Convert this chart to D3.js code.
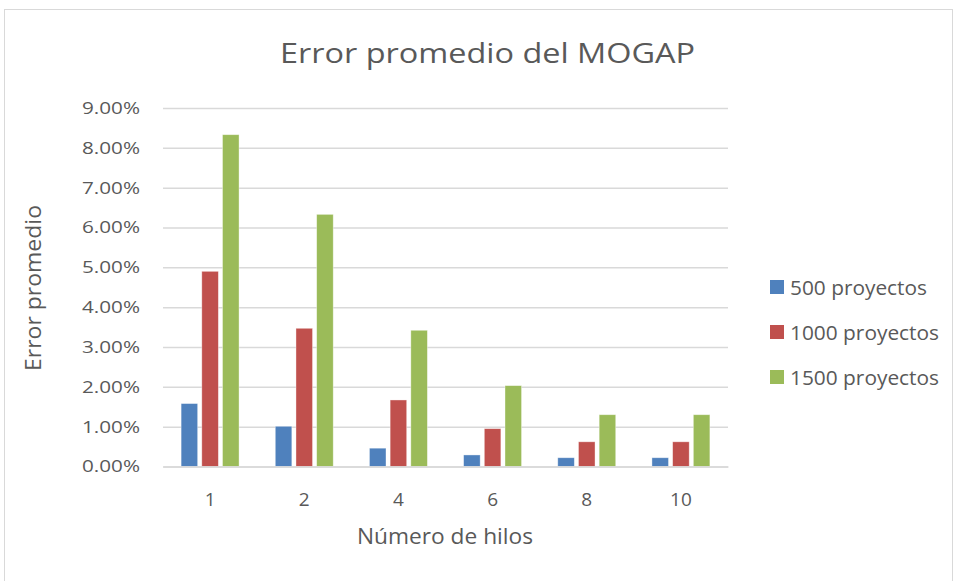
<!DOCTYPE html>
<html>
<head>
<meta charset="utf-8">
<script src="https://cdn.jsdelivr.net/npm/d3@7"></script>
<style>
  html, body { margin: 0; padding: 0; background: #fff; }
  svg { display: block; }
  text { font-family: "Open Sans", "Noto Sans", sans-serif; fill: #595959; }
</style>
</head>
<body>
<svg id="chart" width="958" height="581"></svg>
<script>
const categories = ["1", "2", "4", "6", "8", "10"];
const seriesNames = ["500 proyectos", "1000 proyectos", "1500 proyectos"];
const s500  = [0.0158, 0.0101, 0.0046, 0.0029, 0.0022, 0.0022];
const s1000 = [0.0490, 0.0347, 0.0167, 0.0095, 0.0062, 0.0062];
const s1500 = [0.0833, 0.0633, 0.0342, 0.0203, 0.0130, 0.0130];
const yTicks = [0, 0.01, 0.02, 0.03, 0.04, 0.05, 0.06, 0.07, 0.08, 0.09];
const colors = ["#4F81BD", "#C0504D", "#9BBB59"];
const title = "Error promedio del MOGAP";
const xTitle = "Número de hilos";
const yTitle = "Error promedio";

const seriesValues = [s500, s1000, s1500];
const svg = d3.select("#chart");

// chart border
svg.append("rect").attr("x", 4.5).attr("y", 9.5).attr("width", 948).attr("height", 600)
  .attr("fill", "none").attr("stroke", "#D9D9D9").attr("stroke-width", 1);

const plot = { left: 163, right: 728, top: 108, bottom: 466.5 };

const x = d3.scaleBand().domain(categories).range([plot.left, plot.right]).padding(0);
const xs = d3.scaleBand().domain(d3.range(3)).range([0, x.bandwidth()])
  .paddingInner(0.2).paddingOuter(0.875);
const y = d3.scaleLinear().domain([0, 0.09]).range([plot.bottom, plot.top]);

// gridlines + y labels
const yAxis = d3.axisLeft(y).tickValues(yTicks).tickFormat(d3.format(".2%"))
  .tickSize(-(plot.right - plot.left)).tickPadding(23);
const gy = svg.append("g").attr("transform", `translate(${plot.left},0)`).call(yAxis);
gy.select(".domain").remove();
gy.selectAll(".tick line").attr("stroke", "#D9D9D9").attr("stroke-width", 1.5);
gy.selectAll(".tick text").style("font-size", "17px").attr("fill", "#595959")
  .style("font-family", "'Open Sans', sans-serif")
  .attr("textLength", 58).attr("lengthAdjust", "spacingAndGlyphs");

// bars
const groups = svg.append("g").selectAll("g").data(categories).join("g")
  .attr("transform", d => `translate(${x(d)},0)`);
groups.selectAll("rect").data((d, i) => seriesValues.map((s, k) => ({ k, v: s[i] })))
  .join("rect")
  .attr("x", d => xs(d.k))
  .attr("width", xs.bandwidth())
  .attr("y", d => y(d.v))
  .attr("height", d => y(0) - y(d.v))
  .attr("fill", d => colors[d.k])
  .attr("stroke", "#fff").attr("stroke-opacity", 0.5).attr("stroke-width", 0.75);

// x axis
const xAxis = d3.axisBottom(x).tickSize(0).tickPadding(0);
const gx = svg.append("g").attr("transform", `translate(0,${plot.bottom})`).call(xAxis);
gx.select(".domain").attr("stroke", "#D9D9D9").attr("stroke-width", 1.5);
gx.selectAll(".tick text").style("font-size", "19px").attr("fill", "#595959")
  .style("font-family", "'Open Sans', sans-serif")
  .attr("dy", null).attr("y", 39.5);

// titles
svg.append("text").attr("x", 487.5).attr("y", 63).attr("text-anchor", "middle")
  .style("font-size", "28px")
  .attr("textLength", 415).attr("lengthAdjust", "spacingAndGlyphs").text(title);
svg.append("text").attr("x", 445).attr("y", 544).attr("text-anchor", "middle")
  .style("font-size", "21px")
  .attr("textLength", 176).attr("lengthAdjust", "spacingAndGlyphs").text(xTitle);
svg.append("text").attr("transform", "translate(41,288) rotate(-90)").attr("text-anchor", "middle")
  .style("font-size", "21px")
  .attr("textLength", 166).attr("lengthAdjust", "spacingAndGlyphs").text(yTitle);

// legend
const legendWidths = [137, 149, 149];
const legend = svg.append("g").selectAll("g").data(seriesNames).join("g")
  .attr("transform", (d, i) => `translate(770,${287 + i * 45})`);
legend.append("rect").attr("x", 0).attr("y", -7).attr("width", 14).attr("height", 14)
  .attr("fill", (d, i) => colors[i]);
legend.append("text").attr("x", 20).attr("y", 7.5)
  .style("font-size", "20px")
  .attr("textLength", (d, i) => legendWidths[i]).attr("lengthAdjust", "spacingAndGlyphs")
  .text(d => d);
</script>
</body>
</html>
